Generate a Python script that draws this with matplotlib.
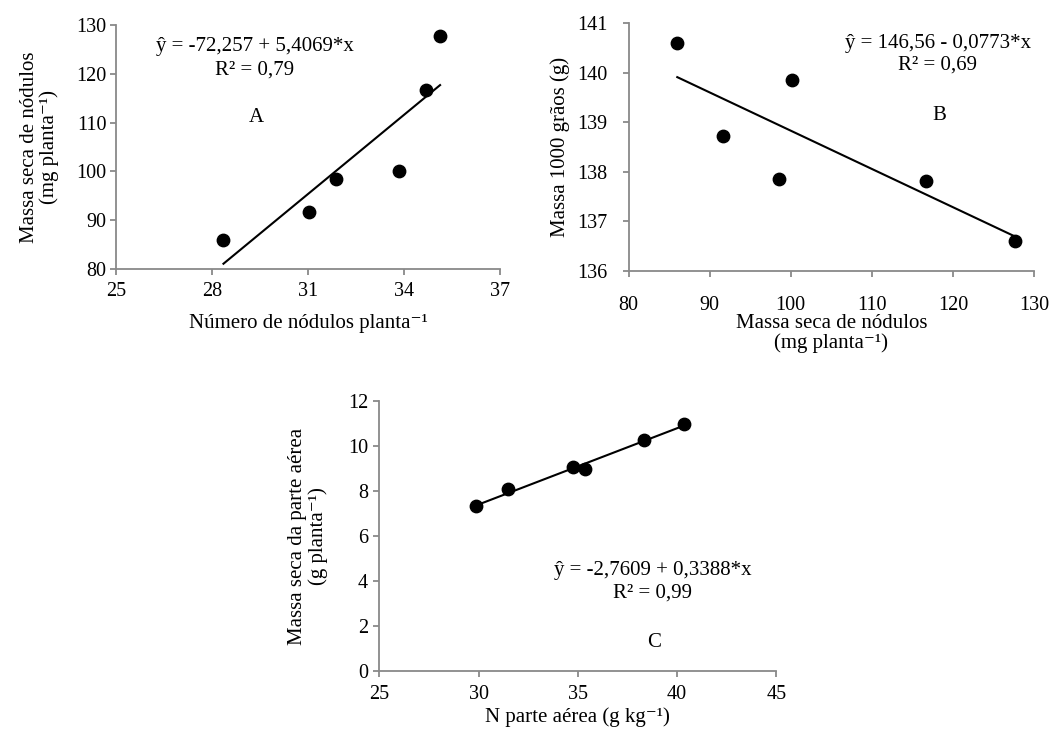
import numpy as np
import matplotlib
matplotlib.use("Agg")
import matplotlib.pyplot as plt

plt.rcParams["font.family"] = ["Liberation Serif", "DejaVu Serif"]

# panel A: nodule number vs nodule dry mass
a_x = [28.36, 31.04, 31.88, 33.85, 34.70, 35.13]
a_y = [86.0, 91.6, 98.5, 100.1, 116.7, 127.7]
a_coef = (-72.257, 5.4069)

# panel B: nodule dry mass vs 1000 grain mass
b_x = [86.0, 91.6, 98.5, 100.1, 116.7, 127.7]
b_y = [140.61, 138.72, 137.85, 139.85, 137.81, 136.60]
b_coef = (146.56, -0.0773)

# panel C: shoot N vs shoot dry mass
c_x = [29.89, 31.47, 34.77, 35.35, 38.33, 40.36]
c_y = [7.33, 8.11, 9.07, 8.96, 10.27, 11.00]
c_coef = (-2.7609, 0.3388)

a_xticks = [25, 28, 31, 34, 37]
a_yticks = [80, 90, 100, 110, 120, 130]
b_xticks = [80, 90, 100, 110, 120, 130]
b_yticks = [136, 137, 138, 139, 140, 141]
c_xticks = [25, 30, 35, 40, 45]
c_yticks = [0, 2, 4, 6, 8, 10, 12]

SPINE = "#898989"
FS_TICK = 14.5
FS_TEXT = 15
SUP = "⁻¹"


def panel(ax, x, y, coef, xticks, yticks, pad):
    x = np.asarray(x)
    xs = np.array([x.min(), x.max()])
    ax.plot(xs, coef[0] + coef[1] * xs, color="black", lw=1.5, zorder=2)
    ax.scatter(x, y, s=80, color="black", zorder=3, clip_on=False)
    ax.set_xlim(xticks[0], xticks[-1])
    ax.set_ylim(yticks[0], yticks[-1])
    ax.set_xticks(xticks)
    ax.set_yticks(yticks)
    for side in ["top", "right"]:
        ax.spines[side].set_visible(False)
    for side in ["left", "bottom"]:
        ax.spines[side].set_color(SPINE)
        ax.spines[side].set_linewidth(1.3)
    ax.tick_params(axis="both", direction="out", length=4, width=1.3,
                   color=SPINE, labelsize=FS_TICK, labelcolor="black")
    ax.tick_params(axis="x", pad=pad[0])
    ax.tick_params(axis="y", pad=pad[1])


def note(ax, x, y, s):
    ax.text(x, y, s, transform=ax.transAxes, ha="center", va="center", fontsize=FS_TEXT)


def main() -> None:
    fig = plt.figure(figsize=(10.56, 7.31), dpi=100)
    ax_a = fig.add_axes([0.1098, 0.632, 0.3636, 0.3338])
    ax_b = fig.add_axes([0.5953, 0.6297, 0.3838, 0.3384])
    ax_c = fig.add_axes([0.3592, 0.0820, 0.3760, 0.3694])

    panel(ax_a, a_x, a_y, a_coef, a_xticks, a_yticks, (5, 3))
    panel(ax_b, b_x, b_y, b_coef, b_xticks, b_yticks, (14, 11))
    panel(ax_c, c_x, c_y, c_coef, c_xticks, c_yticks, (6, 4))

    # A
    note(ax_a, 0.362, 0.91, "ŷ = -72,257 + 5,4069*x")
    note(ax_a, 0.362, 0.816, "R² = 0,79")
    note(ax_a, 0.365, 0.619, "A")
    ax_a.set_ylabel(f"Massa seca de nódulos\n(mg planta{SUP})", fontsize=FS_TEXT,
                    linespacing=1.05)
    ax_a.yaxis.set_label_coords(-0.148, 0.5)
    ax_a.set_xlabel(f"Número de nódulos planta{SUP}", fontsize=FS_TEXT)
    ax_a.xaxis.set_label_coords(0.5, -0.184)

    # B
    note(ax_b, 0.763, 0.92, "ŷ = 146,56 - 0,0773*x")
    note(ax_b, 0.763, 0.831, "R² = 0,69")
    note(ax_b, 0.766, 0.629, "B")
    ax_b.set_ylabel("Massa 1000 grãos (g)", fontsize=FS_TEXT)
    ax_b.yaxis.set_label_coords(-0.145, 0.5)
    ax_b.set_xlabel(f"Massa seca de nódulos\n(mg planta{SUP})", fontsize=FS_TEXT,
                    linespacing=1.05)
    ax_b.xaxis.set_label_coords(0.5, -0.175)

    # C
    note(ax_c, 0.689, 0.372, "ŷ = -2,7609 + 0,3388*x")
    note(ax_c, 0.689, 0.29, "R² = 0,99")
    note(ax_c, 0.692, 0.104, "C")
    ax_c.set_ylabel(f"Massa seca da parte aérea\n(g planta{SUP})", fontsize=FS_TEXT,
                    linespacing=1.05)
    ax_c.yaxis.set_label_coords(-0.13, 0.5)
    ax_c.set_xlabel(f"N parte aérea (g kg{SUP})", fontsize=FS_TEXT)
    ax_c.xaxis.set_label_coords(0.5, -0.134)

    fig.savefig("out.png", dpi=100, facecolor="white")
    plt.close(fig)


if __name__ == "__main__":
    main()
